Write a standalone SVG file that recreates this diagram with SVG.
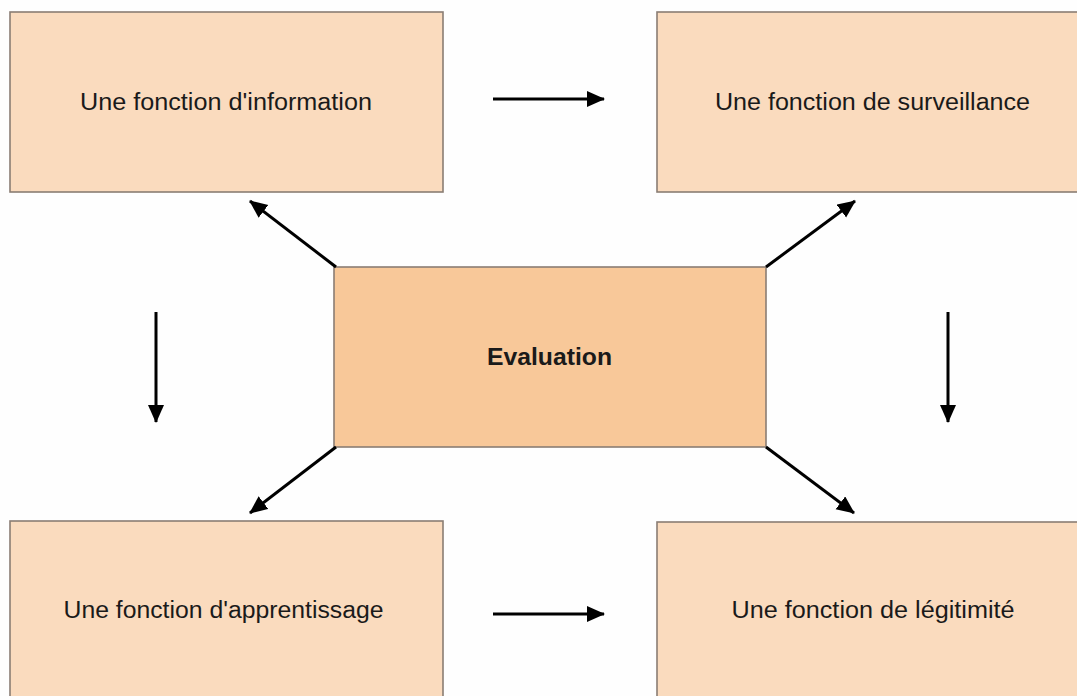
<svg xmlns="http://www.w3.org/2000/svg" width="1077" height="696" viewBox="0 0 1077 696">
  <style>
    .box { fill: #FADBBE; stroke: #8A7D74; stroke-width: 1.6; }
    .core { fill: #F8C899; stroke: #8A7D74; stroke-width: 1.6; }
    .lbl { font-family: "Liberation Sans", Arial, sans-serif; font-size: 23.5px; fill: #1a1a1a; text-anchor: middle; }
    .bold { font-weight: bold; font-size: 24.5px; }
    .arrow { stroke: #000; stroke-width: 3; fill: none; marker-end: url(#head); }
  </style>
  <defs>
    <marker id="head" markerUnits="userSpaceOnUse" markerWidth="20" markerHeight="18" refX="17" refY="8" orient="auto">
      <path d="M0,0 L18,8 L0,16 z" fill="#000"/>
    </marker>
  </defs>

  <rect x="0" y="0" width="1077" height="696" fill="#FEFEFE"/>

  <g id="node-information">
    <rect class="box" x="10" y="12" width="433" height="180"/>
    <text class="lbl" x="226" y="110" textLength="292" lengthAdjust="spacingAndGlyphs">Une fonction d'information</text>
  </g>

  <g id="node-surveillance">
    <rect class="box" x="657" y="12" width="430" height="180"/>
    <text class="lbl" x="872.5" y="110" textLength="315" lengthAdjust="spacingAndGlyphs">Une fonction de surveillance</text>
  </g>

  <g id="node-evaluation">
    <rect class="core" x="334" y="267" width="432" height="180"/>
    <text class="lbl bold" x="549.5" y="364.5" textLength="125" lengthAdjust="spacingAndGlyphs">Evaluation</text>
  </g>

  <g id="node-apprentissage">
    <rect class="box" x="10" y="521" width="433" height="190"/>
    <text class="lbl" x="223.5" y="618" textLength="320" lengthAdjust="spacingAndGlyphs">Une fonction d'apprentissage</text>
  </g>

  <g id="node-legitimite">
    <rect class="box" x="657" y="522" width="430" height="190"/>
    <text class="lbl" x="873" y="618" textLength="283" lengthAdjust="spacingAndGlyphs">Une fonction de légitimité</text>
  </g>

  <g id="connectors">
    <line class="arrow" x1="493" y1="99" x2="604" y2="99"/>
    <line class="arrow" x1="493" y1="614" x2="604" y2="614"/>
    <line class="arrow" x1="156" y1="312" x2="156" y2="422"/>
    <line class="arrow" x1="948" y1="312" x2="948" y2="422"/>
    <line class="arrow" x1="336" y1="267" x2="250" y2="201"/>
    <line class="arrow" x1="766" y1="267" x2="855" y2="201"/>
    <line class="arrow" x1="336" y1="447" x2="250" y2="513"/>
    <line class="arrow" x1="766" y1="447" x2="854" y2="513"/>
  </g>
</svg>
